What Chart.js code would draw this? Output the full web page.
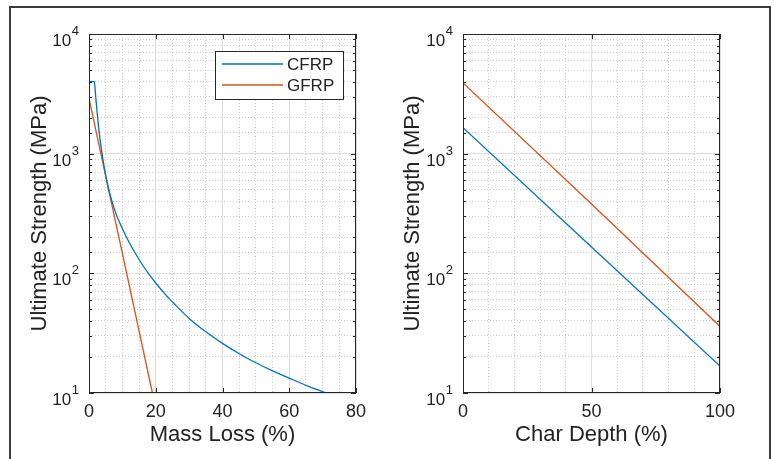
<!DOCTYPE html>
<html>
<head>
<meta charset="utf-8">
<script src="https://cdn.jsdelivr.net/npm/chart.js@4.4.1/dist/chart.umd.min.js"></script>
<style>
  html, body { margin: 0; padding: 0; background: #fff; overflow: hidden; }
  #wrap { position: relative; width: 774px; height: 459px; overflow: hidden; }
  #frame { position: absolute; left: 9px; top: 6px; width: 758px; height: 480px; border: 2px solid #3c3c3c; }
  canvas { position: absolute; top: 0; }
  #left { left: 0; }
  #right { left: 390px; }
</style>
</head>
<body>
<div id="wrap">
  <div id="frame"></div>
  <canvas id="left" width="390" height="459"></canvas>
  <canvas id="right" width="384" height="459"></canvas>
</div>
<script>
// valores
const massLoss = [0, 1.6, 2, 3, 4, 5, 6, 7, 8, 9, 10, 12, 14, 16, 18, 20, 23, 26, 30, 35, 40, 45, 50, 55, 60, 65, 71];
const cfrpByMass = [4000, 4000, 3000, 1550, 960, 660, 490, 390, 320, 272, 236, 182, 145, 118, 98, 83, 66, 54, 42, 32.5, 26, 21.3, 17.9, 15.3, 13.3, 11.6, 10];
const gfrpMassLoss = [0, 19];
const gfrpByMass = [2900, 10];

const charDepth = [0, 50, 100];
const cfrpByChar = [1650, 166, 16.8];
const gfrpByChar = [3900, 380, 36];

const massTicks = [0, 20, 40, 60, 80];
const charTicks = [0, 50, 100];
const yExponents = [1, 2, 3, 4];

const BLUE = "#0072BD";
const ORANGE = "#D95319";
const FONT = "'Liberation Sans', Arial, sans-serif";
const TEXT = "#222";
const MAJOR_GRID = "#dedede";
const MINOR_GRID = "#cdcdcd";

function pts(xs, ys) {
  return xs.map((v, i) => ({ x: v, y: ys[i] }));
}

function isPow10(v) {
  const l = Math.log10(v);
  return Math.abs(l - Math.round(l)) < 1e-9;
}

// caixa estilo matlab + ticks para dentro + rotulos 10^n
const boxPlugin = {
  id: "matlabBox",
  afterDraw(chart, args, opts) {
    const { ctx, chartArea: a, scales } = chart;
    const x = scales.x, y = scales.y;
    ctx.save();
    ctx.strokeStyle = "#262626";
    ctx.lineWidth = 1;
    ctx.beginPath();
    x.ticks.forEach((t) => {
      if (!opts.labels.includes(t.value)) return;
      const px = Math.round(x.getPixelForValue(t.value)) + 0.5;
      ctx.moveTo(px, a.bottom); ctx.lineTo(px, a.bottom - 5);
      ctx.moveTo(px, a.top); ctx.lineTo(px, a.top + 5);
    });
    y.ticks.forEach((t) => {
      const py = Math.round(y.getPixelForValue(t.value)) + 0.5;
      const len = isPow10(t.value) ? 5 : 3;
      ctx.moveTo(a.left, py); ctx.lineTo(a.left + len, py);
      ctx.moveTo(a.right, py); ctx.lineTo(a.right - len, py);
    });
    ctx.stroke();
    ctx.strokeRect(a.left + 0.5, a.top + 0.5, a.width - 1, a.height - 1);

    ctx.fillStyle = TEXT;
    ctx.textAlign = "right";
    ctx.textBaseline = "alphabetic";
    yExponents.forEach((e) => {
      const py = y.getPixelForValue(Math.pow(10, e));
      ctx.font = "13px " + FONT;
      ctx.fillText(String(e), a.left - 10, py + 1);
      const w = ctx.measureText(String(e)).width;
      ctx.font = "17px " + FONT;
      ctx.fillText("10", a.left - 10.5 - w, py + 12);
    });
    ctx.restore();
  },
};

const legendPlugin = {
  id: "boxLegend",
  afterDraw(chart) {
    const { ctx, chartArea: a } = chart;
    const w = 129, h = 49;
    const bx = a.right - 12 - w, by = a.top + 17;
    ctx.save();
    ctx.fillStyle = "#fff";
    ctx.fillRect(bx, by, w, h);
    ctx.strokeStyle = "#262626";
    ctx.lineWidth = 1;
    ctx.strokeRect(bx + 0.5, by + 0.5, w - 1, h - 1);
    chart.data.datasets.forEach((ds, i) => {
      const ly = by + 13 + i * 21;
      ctx.strokeStyle = ds.borderColor;
      ctx.lineWidth = 1.3;
      ctx.beginPath();
      ctx.moveTo(bx + 7, ly);
      ctx.lineTo(bx + 68, ly);
      ctx.stroke();
      ctx.fillStyle = TEXT;
      ctx.font = "17px " + FONT;
      ctx.textBaseline = "middle";
      ctx.textAlign = "left";
      ctx.fillText(ds.label, bx + 72, ly + 1);
    });
    ctx.restore();
  },
};

function makeOptions(cfg) {
  const major = (c) => c.tick && cfg.labels.includes(c.tick.value);
  return {
    responsive: false,
    animation: false,
    layout: { padding: { left: 0, top: 34, right: cfg.padRight, bottom: 0 } },
    plugins: {
      legend: { display: false },
      tooltip: { enabled: false },
      matlabBox: { labels: cfg.labels },
    },
    scales: {
      x: {
        type: "linear",
        min: 0,
        max: cfg.xMax,
        afterFit: (s) => { s.height = 66; },
        ticks: {
          stepSize: cfg.step,
          autoSkip: false,
          maxRotation: 0,
          padding: 8,
          color: TEXT,
          font: { family: FONT, size: 18 },
          callback: (v) => (cfg.labels.includes(v) ? String(v) : ""),
        },
        grid: {
          drawTicks: false,
          color: (c) => (major(c) ? MAJOR_GRID : MINOR_GRID),
        },
        border: {
          display: false,
          dash: (c) => (c.tick && !major(c) ? [1, 2] : []),
        },
        title: {
          display: true,
          text: cfg.xTitle,
          color: TEXT,
          font: { family: FONT, size: 22 },
          padding: { top: 0, bottom: 11 },
        },
      },
      y: {
        type: "logarithmic",
        min: 10,
        max: 10000,
        afterFit: (s) => { s.width = cfg.yWidth; },
        ticks: { display: false, autoSkip: false },
        grid: {
          drawTicks: false,
          color: (c) => (c.tick && isPow10(c.tick.value) ? MAJOR_GRID : MINOR_GRID),
        },
        border: {
          display: false,
          dash: (c) => (c.tick && !isPow10(c.tick.value) ? [1, 2] : []),
        },
        title: {
          display: true,
          text: "Ultimate Strength (MPa)",
          color: TEXT,
          font: { family: FONT, size: 22 },
          padding: { top: cfg.yTitlePad, bottom: 0 },
        },
      },
    },
  };
}

const lineStyle = { borderWidth: 1.3, pointRadius: 0, fill: false };

new Chart(document.getElementById("left"), {
  type: "line",
  data: {
    datasets: [
      { label: "CFRP", data: pts(massLoss, cfrpByMass), borderColor: BLUE, backgroundColor: BLUE, cubicInterpolationMode: "monotone", ...lineStyle },
      { label: "GFRP", data: pts(gfrpMassLoss, gfrpByMass), borderColor: ORANGE, backgroundColor: ORANGE, ...lineStyle },
    ],
  },
  options: makeOptions({ xMax: 80, step: 5, labels: massTicks, xTitle: "Mass Loss (%)", yWidth: 89, padRight: 34, yTitlePad: 27 }),
  plugins: [boxPlugin, legendPlugin],
});

new Chart(document.getElementById("right"), {
  type: "line",
  data: {
    datasets: [
      { label: "CFRP", data: pts(charDepth, cfrpByChar), borderColor: BLUE, backgroundColor: BLUE, ...lineStyle },
      { label: "GFRP", data: pts(charDepth, gfrpByChar), borderColor: ORANGE, backgroundColor: ORANGE, ...lineStyle },
    ],
  },
  options: makeOptions({ xMax: 100, step: 10, labels: charTicks, xTitle: "Char Depth (%)", yWidth: 73, padRight: 54, yTitlePad: 10 }),
  plugins: [boxPlugin],
});
</script>
</body>
</html>
